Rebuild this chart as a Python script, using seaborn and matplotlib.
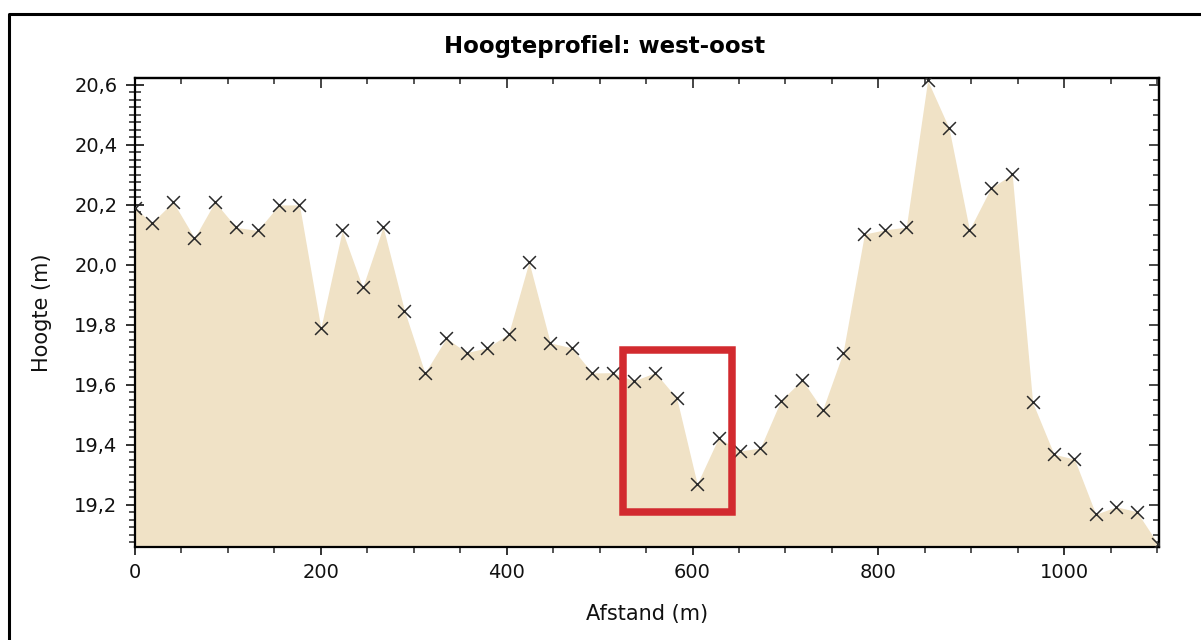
import matplotlib
matplotlib.use("Agg")
import matplotlib.pyplot as plt
from matplotlib.ticker import MultipleLocator, FuncFormatter
from matplotlib.patches import Rectangle
from matplotlib.lines import Line2D
import seaborn as sns
import pandas as pd

# ---- data ----
distance_m = [0, 18, 41, 64, 86, 109, 132, 155, 177, 200,
              223, 245, 267, 290, 312, 335, 357, 379, 402, 424,
              447, 470, 492, 514, 537, 560, 583, 605, 628, 651,
              673, 695, 718, 740, 762, 785, 807, 830, 853, 876,
              898, 921, 944, 966, 989, 1011, 1034, 1056, 1078, 1101]
height_m = [20.19, 20.14, 20.21, 20.09, 20.21, 20.125, 20.115, 20.20, 20.20, 19.79,
            20.115, 19.925, 20.127, 19.848, 19.64, 19.756, 19.708, 19.724, 19.77, 20.01,
            19.74, 19.724, 19.64, 19.641, 19.614, 19.641, 19.556, 19.27, 19.424, 19.38,
            19.39, 19.548, 19.617, 19.517, 19.708, 20.103, 20.117, 20.126, 20.615, 20.456,
            20.117, 20.256, 20.302, 19.542, 19.369, 19.353, 19.169, 19.194, 19.178, 19.07]

title_text = "Hoogteprofiel: west-oost"
xlabel_text = "Afstand (m)"
ylabel_text = "Hoogte (m)"

# highlighted section (red box) in data units
box_x0, box_x1 = 525, 643
box_y0, box_y1 = 19.176, 19.718

x_limits = (0, 1102)
y_limits = (19.06, 20.623)

df = pd.DataFrame({"Afstand": distance_m, "Hoogte": height_m})

sns.set_theme(style="white")
plt.rcParams["font.family"] = ["DejaVu Sans"]

fig = plt.figure(figsize=(12.01, 6.40), dpi=100)
fig.patch.set_facecolor("white")
ax = fig.add_axes([135 / 1201, 1 - 547 / 640, (1159 - 135) / 1201, (547 - 78) / 640])
ax.set_facecolor("white")

# filled profile
ax.fill_between(df["Afstand"], df["Hoogte"], y_limits[0], color="#F0E2C6", linewidth=0, zorder=1)

# sample points
sns.scatterplot(data=df, x="Afstand", y="Hoogte", marker="x", s=85, color="#2a2a2a",
                linewidth=1.1, ax=ax, zorder=3, legend=False)

ax.set_xlim(*x_limits)
ax.set_ylim(*y_limits)

# ticks
ax.xaxis.set_major_locator(MultipleLocator(200))
ax.xaxis.set_minor_locator(MultipleLocator(50))
ax.yaxis.set_major_locator(MultipleLocator(0.2))
ax.yaxis.set_minor_locator(MultipleLocator(0.025))
ax.xaxis.set_major_formatter(FuncFormatter(lambda v, p: f"{v:.0f}"))
ax.yaxis.set_major_formatter(FuncFormatter(lambda v, p: f"{v:.1f}".replace(".", ",")))

ax.tick_params(axis="x", which="major", direction="inout", length=11.5, width=1.2,
               labelsize=14, pad=6, colors="#111111", bottom=True, top=False)
ax.tick_params(axis="x", which="minor", direction="inout", length=8, width=1.1,
               bottom=True, top=False)
ax.tick_params(axis="y", which="major", direction="inout", length=13.5, width=1.2,
               labelsize=14, pad=6, colors="#111111", left=True, right=False)
ax.tick_params(axis="y", which="minor", direction="inout", length=8.5, width=1.1,
               left=True, right=False)

# top and right inward ticks
secx = ax.secondary_xaxis("top")
secx.xaxis.set_major_locator(MultipleLocator(200))
secx.xaxis.set_minor_locator(MultipleLocator(50))
secx.tick_params(which="major", direction="in", length=7.5, width=1.2, labeltop=False, labelbottom=False)
secx.tick_params(which="minor", direction="in", length=4.5, width=1.1)
secx.spines["top"].set_linewidth(1.6)

secy = ax.secondary_yaxis("right")
secy.yaxis.set_major_locator(MultipleLocator(0.2))
secy.yaxis.set_minor_locator(MultipleLocator(0.05))
secy.tick_params(which="major", direction="in", length=7.5, width=1.2, labelright=False, labelleft=False)
secy.tick_params(which="minor", direction="in", length=4.5, width=1.1)
secy.spines["right"].set_linewidth(1.6)

for sp in ax.spines.values():
    sp.set_visible(True)
    sp.set_color("black")
    sp.set_linewidth(1.6)

ax.set_xlabel(xlabel_text, fontsize=15, color="#111111")
ax.set_ylabel(ylabel_text, fontsize=15, color="#111111")
ax.xaxis.set_label_coords(0.5, -0.122)
ax.yaxis.set_label_coords(-0.081, 0.5)

# title
fig.text(605 / 1201, 1 - 53 / 640, title_text, ha="center", va="baseline",
         fontsize=16.5, fontweight="bold", color="black")

# red highlight box
ax.add_patch(Rectangle((box_x0, box_y0), box_x1 - box_x0, box_y1 - box_y0,
                       fill=False, edgecolor="#D22A2F", linewidth=5.4, zorder=4, clip_on=False))

# outer frame (left and top edges)
fig.add_artist(Line2D([8.5 / 1201, 8.5 / 1201, 1.0], [0.0, 1 - 13.5 / 640, 1 - 13.5 / 640],
                      transform=fig.transFigure, color="black", linewidth=2.2))

fig.savefig("out.png", dpi=100, facecolor="white")
